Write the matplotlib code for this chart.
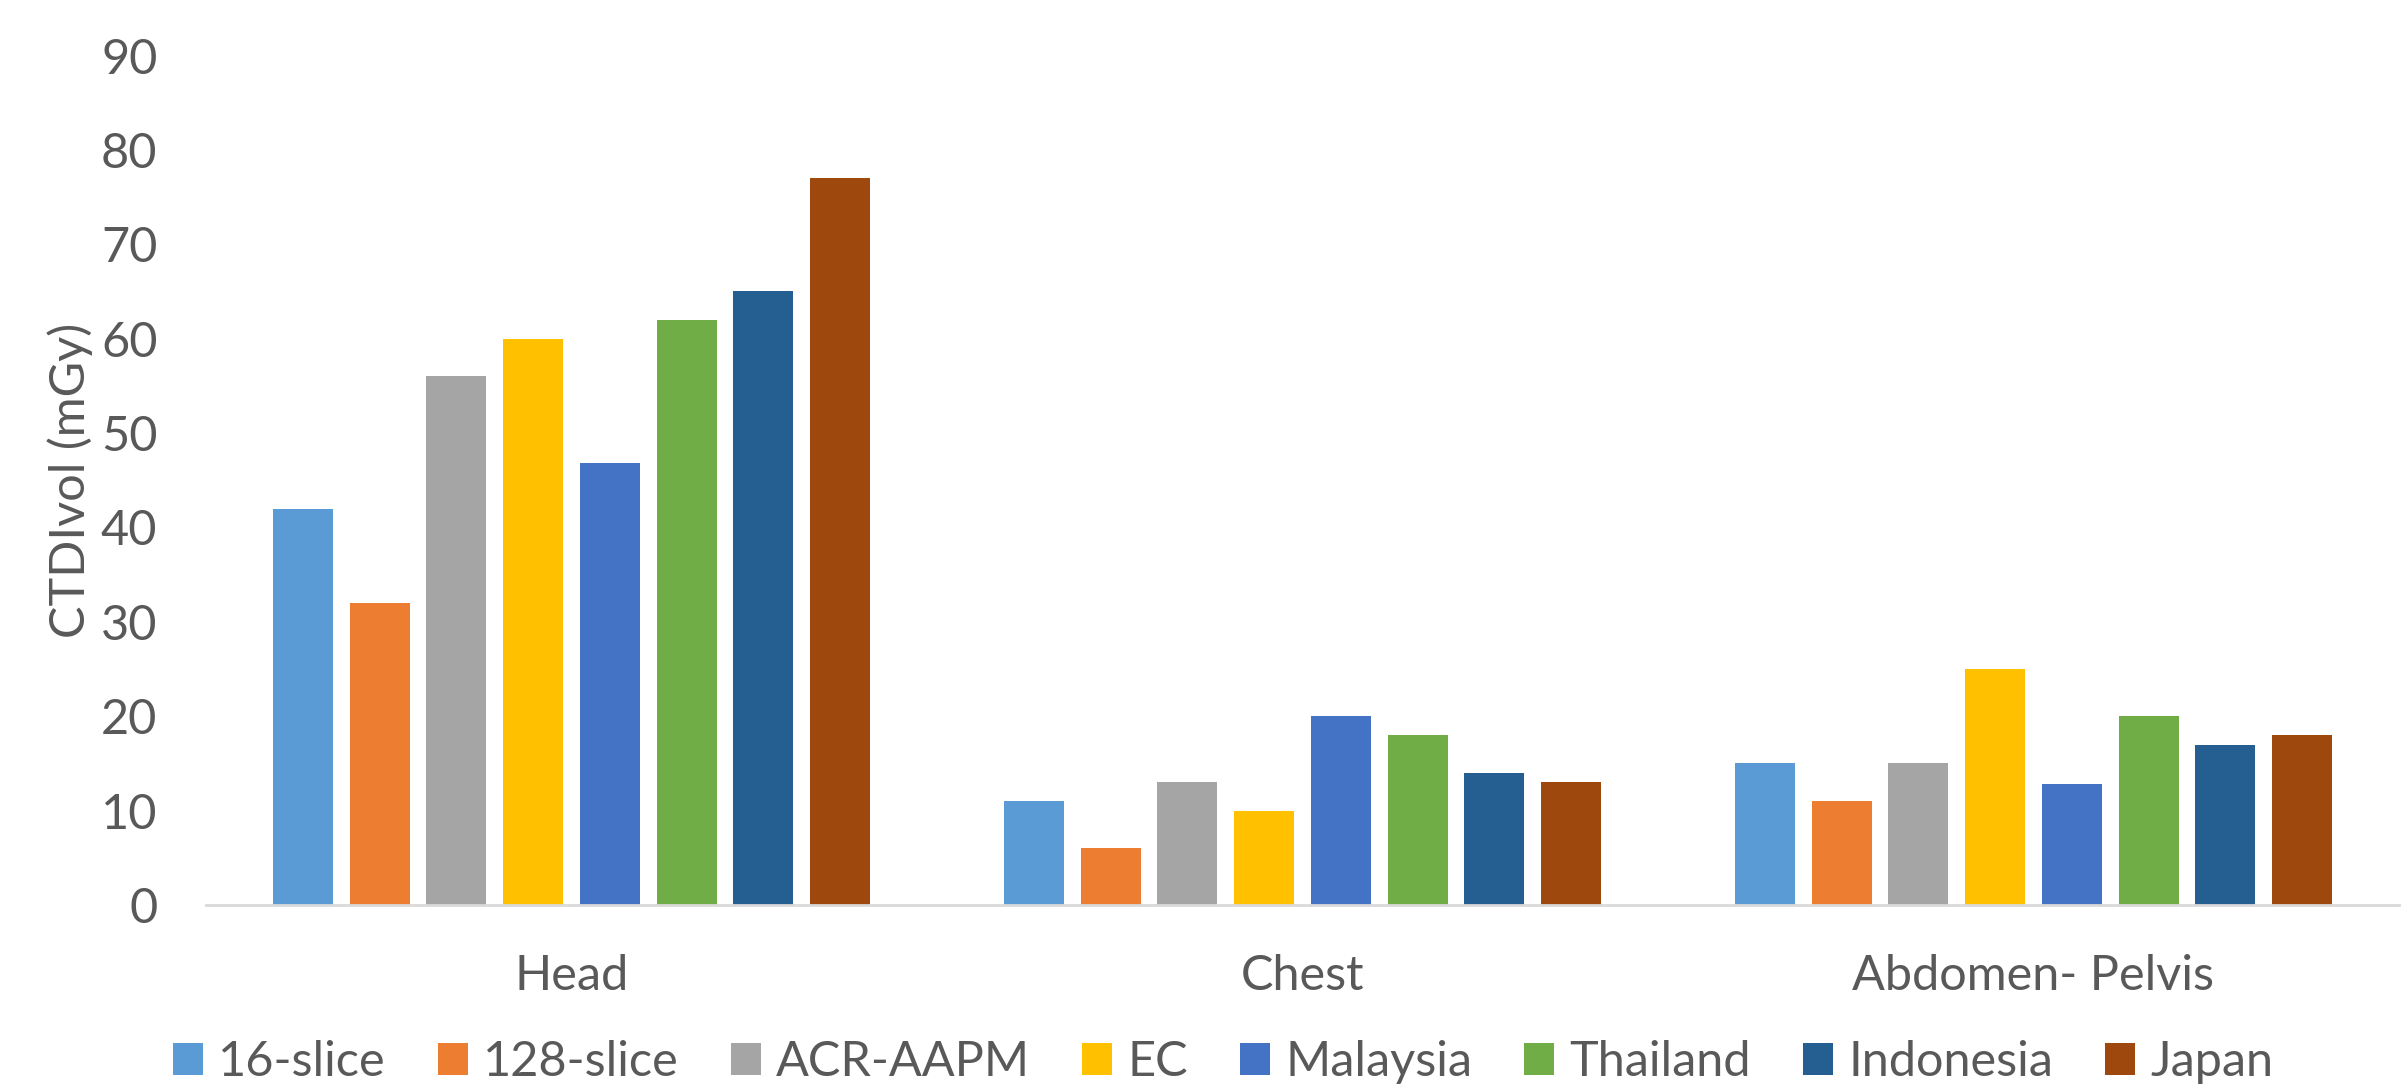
import matplotlib
matplotlib.use("Agg")
import matplotlib.pyplot as plt
import numpy as np

categories = ["Head", "Chest", "Abdomen- Pelvis"]
series_names = ["16-slice", "128-slice", "ACR-AAPM", "EC", "Malaysia", "Thailand", "Indonesia", "Japan"]
s_16slice = [42, 11, 15]
s_128slice = [32, 6, 11]
s_acr_aapm = [56, 13, 15]
s_ec = [60, 10, 25]
s_malaysia = [46.8, 20, 12.8]
s_thailand = [62, 18, 20]
s_indonesia = [65, 14, 17]
s_japan = [77, 13, 18]
series_values = [s_16slice, s_128slice, s_acr_aapm, s_ec, s_malaysia, s_thailand, s_indonesia, s_japan]
colors = ["#5B9BD5", "#ED7D31", "#A5A5A5", "#FFC000", "#4472C4", "#70AD47", "#255E91", "#9E480E"]
yticks = [0, 10, 20, 30, 40, 50, 60, 70, 80, 90]

TXT = "#595959"
FS = 35
plt.rcParams['font.family'] = ['Lato', 'DejaVu Sans']

fig = plt.figure(figsize=(24.03, 10.91), dpi=100)
ax = fig.add_axes([206/2403, 1-905/1091, 2193/2403, (905-55.5)/1091])

x = np.arange(len(categories))
pitch = 0.105
width = 0.082
n = len(series_names)
for i, (name, vals, c) in enumerate(zip(series_names, series_values, colors)):
    ax.bar(x + (i - (n-1)/2)*pitch, vals, width, color=c, label=name, zorder=2)

ax.set_xlim(-0.5, len(categories)-0.5)
ax.set_ylim(0, 90)
ax.set_yticks(yticks)
ax.set_yticklabels([str(v) for v in yticks])
ax.set_xticks(x)
ax.set_xticklabels(categories)
for s in ["top", "right", "left"]:
    ax.spines[s].set_visible(False)
ax.spines["bottom"].set_color("#D9D9D9")
ax.spines["bottom"].set_linewidth(2)
ax.tick_params(axis='y', length=0, pad=35, labelsize=FS, labelcolor=TXT)
ax.tick_params(axis='x', length=0, pad=35, labelsize=FS, labelcolor=TXT)

fig.text(70/2403, 1-480/1091, "CTDIvol (mGy)", rotation=90, ha='center', va='center',
         fontsize=FS, color=TXT)

leg = fig.legend(loc='center left', bbox_to_anchor=(173/2403, 1-1062/1091), ncol=8,
                 frameon=False, fontsize=FS, handlelength=0.62, handleheight=0.62,
                 handletextpad=0.31, columnspacing=1.07, borderpad=0, borderaxespad=0)
for t in leg.get_texts():
    t.set_color(TXT)

fig.savefig("out.png", dpi=100)
